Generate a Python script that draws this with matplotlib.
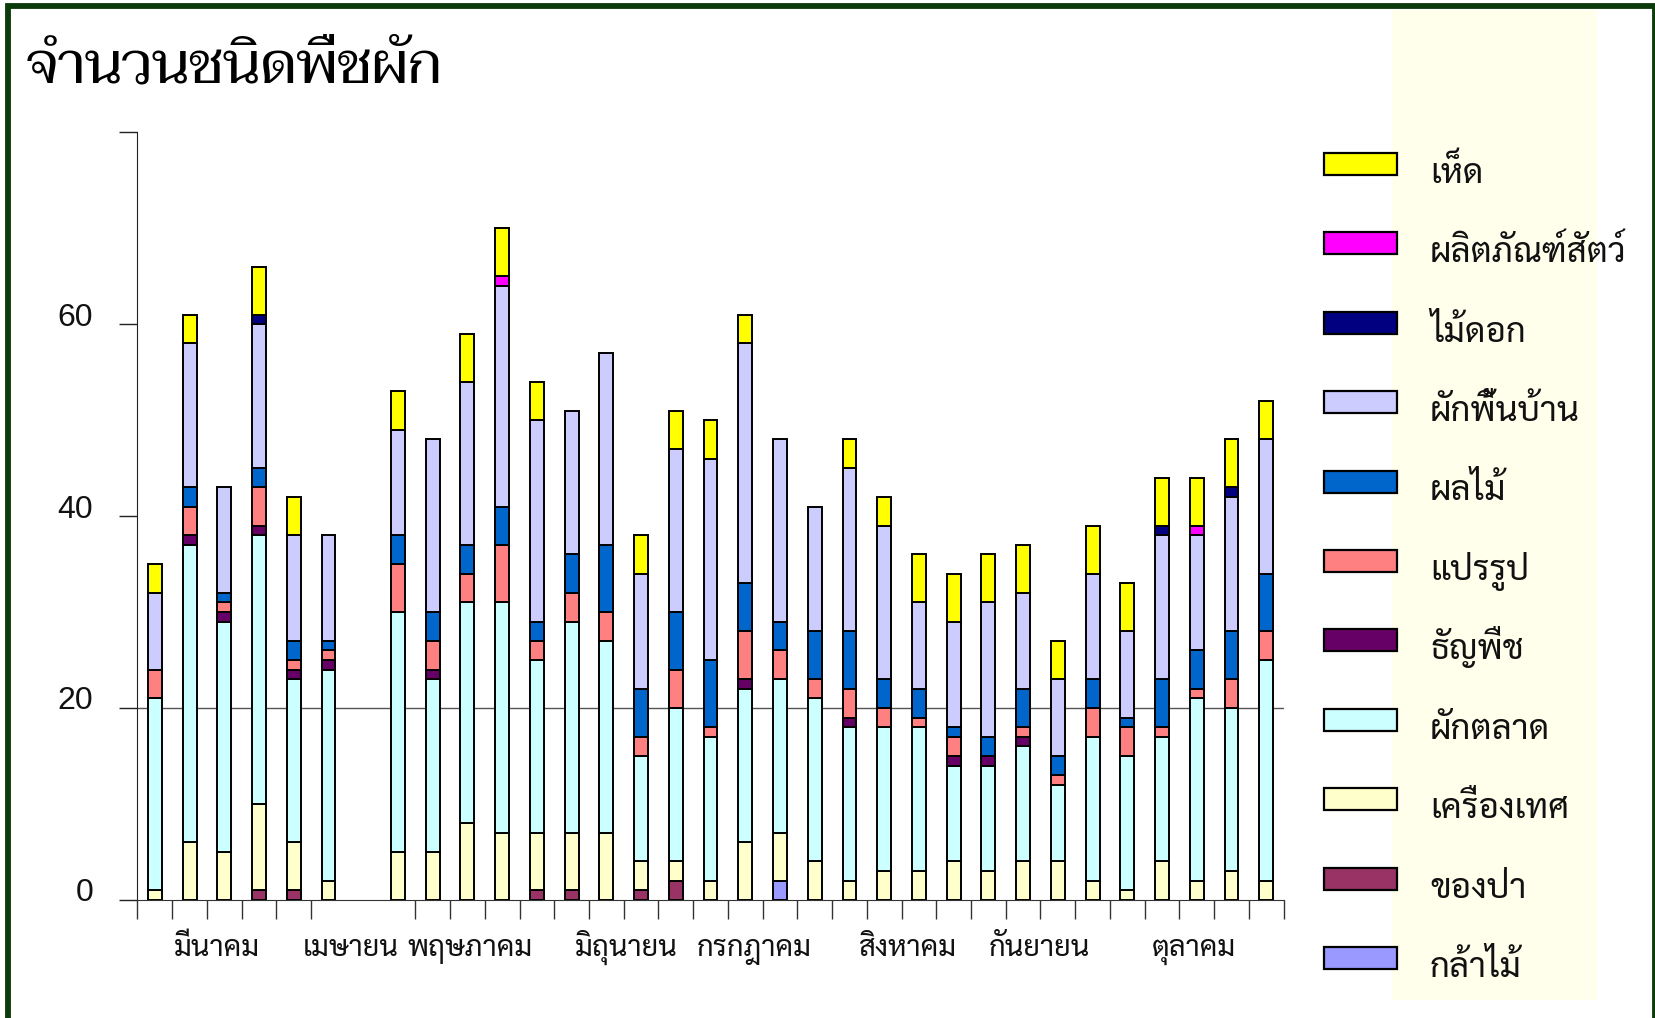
import matplotlib
matplotlib.use("Agg")
import matplotlib.pyplot as plt
from matplotlib.patches import Rectangle
from matplotlib.transforms import ScaledTranslation
import numpy as np

THAI_SANS = ["Sarabun", "Noto Sans Thai Looped", "Noto Sans Thai", "DejaVu Sans"]
THAI_SERIF = ["Taviraj", "Noto Serif Thai", "Sarabun", "DejaVu Sans"]

title = "จำนวนชนิดพืชผัก"

# one slot per week, slot 6 has no data
kla_mai    = [0, 0, 0, 0, 0, 0, 0, 0, 0, 0, 0, 0, 0, 0, 0, 0, 0, 0, 2, 0, 0, 0, 0, 0, 0, 0, 0, 0, 0, 0, 0, 0, 0]
khong_pa   = [0, 0, 0, 1, 1, 0, 0, 0, 0, 0, 0, 1, 1, 0, 1, 2, 0, 0, 0, 0, 0, 0, 0, 0, 0, 0, 0, 0, 0, 0, 0, 0, 0]
spice      = [1, 6, 5, 9, 5, 2, 0, 5, 5, 8, 7, 6, 6, 7, 3, 2, 2, 6, 5, 4, 2, 3, 3, 4, 3, 4, 4, 2, 1, 4, 2, 3, 2]
market     = [20, 31, 24, 28, 17, 22, 0, 25, 18, 23, 24, 18, 22, 20, 11, 16, 15, 16, 16, 17, 16, 15, 15, 10, 11, 12, 8, 15, 14, 13, 19, 17, 23]
grain      = [0, 1, 1, 1, 1, 1, 0, 0, 1, 0, 0, 0, 0, 0, 0, 0, 0, 1, 0, 0, 1, 0, 0, 1, 1, 1, 0, 0, 0, 0, 0, 0, 0]
processed  = [3, 3, 1, 4, 1, 1, 0, 5, 3, 3, 6, 2, 3, 3, 2, 4, 1, 5, 3, 2, 3, 2, 1, 2, 0, 1, 1, 3, 3, 1, 1, 3, 3]
fruit      = [0, 2, 1, 2, 2, 1, 0, 3, 3, 3, 4, 2, 4, 7, 5, 6, 7, 5, 3, 5, 6, 3, 3, 1, 2, 4, 2, 3, 1, 5, 4, 5, 6]
local_veg  = [8, 15, 11, 15, 11, 11, 0, 11, 18, 17, 23, 21, 15, 20, 12, 17, 21, 25, 19, 13, 17, 16, 9, 11, 14, 10, 8, 11, 9, 15, 12, 14, 14]
flower     = [0, 0, 0, 1, 0, 0, 0, 0, 0, 0, 0, 0, 0, 0, 0, 0, 0, 0, 0, 0, 0, 0, 0, 0, 0, 0, 0, 0, 0, 1, 0, 1, 0]
animal     = [0, 0, 0, 0, 0, 0, 0, 0, 0, 0, 1, 0, 0, 0, 0, 0, 0, 0, 0, 0, 0, 0, 0, 0, 0, 0, 0, 0, 0, 0, 1, 0, 0]
mushroom   = [3, 3, 0, 5, 4, 0, 0, 4, 0, 5, 5, 4, 0, 0, 4, 4, 4, 3, 0, 0, 3, 3, 5, 5, 5, 5, 4, 5, 5, 5, 5, 5, 4]

series = [kla_mai, khong_pa, spice, market, grain, processed, fruit, local_veg, flower, animal, mushroom]
names = ["กล้าไม้", "ของป่า", "เครื่องเทศ", "ผักตลาด", "ธัญพืช", "แปรรูป",
         "ผลไม้", "ผักพื้นบ้าน", "ไม้ดอก", "ผลิตภัณฑ์สัตว์", "เห็ด"]
colors = ["#9999FF", "#993366", "#FFFFCC", "#CCFFFF", "#660066", "#FF8080",
          "#0066CC", "#CCCCFF", "#000080", "#FF00FF", "#FFFF00"]

months = ["มีนาคม", "เมษายน", "พฤษภาคม", "มิถุนายน", "กรกฎาคม", "สิงหาคม", "กันยายน", "ตุลาคม"]
month_pos = [1.80, 5.65, 9.07, 13.58, 17.25, 21.68, 25.48, 29.93]
yticks = [0, 20, 40, 60, 80]
ytick_labels = ["0", "20", "40", "60", ""]

W, H = 1656, 1018
fig = plt.figure(figsize=(W / 100, H / 100), dpi=100)
ax = fig.add_axes([137.5 / W, 1 - 899.8 / H, 1146.1 / W, 767.4 / H])

x = np.arange(len(spice))
bottom = np.zeros(len(x))
for vals, c in zip(series, colors):
    v = np.array(vals, dtype=float)
    m = v > 0
    ax.bar(x[m], v[m], width=0.40, bottom=bottom[m], color=c,
           edgecolor="black", linewidth=1.4, zorder=3)
    bottom += v

ax.set_xlim(-0.5, len(x) - 0.5)
ax.set_ylim(0, 80)
ax.axhline(20, color="#555555", linewidth=1, zorder=1)

for s in ["top", "right"]:
    ax.spines[s].set_visible(False)
ax.spines["left"].set_color("#222222")
ax.spines["bottom"].set_color("#333333")

ax.set_yticks(yticks)
ax.set_yticklabels(ytick_labels, fontsize=23, family=["Liberation Sans", "DejaVu Sans"],
                   color="#111111")
ax.tick_params(axis="y", length=13, width=1, pad=19, color="#222222")
for lab in ax.get_yticklabels():
    lab.set_transform(lab.get_transform() + ScaledTranslation(0, 0.10, fig.dpi_scale_trans))

edges = [k - 0.5 for k in range(len(x) + 1) if k not in (6, 7)]
ax.set_xticks(edges)
ax.set_xticklabels([])
ax.tick_params(axis="x", length=13.5, width=1, color="#333333")

for lab, p in zip(months, month_pos):
    ax.text(p, -0.073, lab, transform=ax.get_xaxis_transform(), ha="center",
            va="baseline", fontsize=21, family=THAI_SANS, color="#111111")

fig.text(26 / W, 1 - 82 / H, title, fontsize=41.5, family=THAI_SERIF,
         va="baseline", ha="left", color="black")

# pale column behind the legend texts
fig.add_artist(Rectangle((1392 / W, 1 - 1000 / H), 205 / W, 990 / H,
                         transform=fig.transFigure, facecolor="#FFFFEC",
                         edgecolor="none", zorder=0))

# legend, top entry first
for i, k in enumerate(range(len(names) - 1, -1, -1)):
    yc = 163.7 + 79.45 * i
    fig.add_artist(Rectangle((1324 / W, 1 - (yc + 11) / H), 73 / W, 22 / H,
                             transform=fig.transFigure, facecolor=colors[k],
                             edgecolor="black", linewidth=1.6, zorder=2))
    fig.text(1430 / W, 1 - (yc + 19) / H, names[k], fontsize=25, family=THAI_SANS,
             va="baseline", ha="left", color="#111111")

# dark green outer frame
fig.add_artist(Rectangle((8 / W, -0.02), 1647 / W, 1.02 - 5.75 / H,
                         transform=fig.transFigure, facecolor="none",
                         edgecolor="#0B3B0B", linewidth=4.2, zorder=5))

fig.savefig("out.png", dpi=100)
